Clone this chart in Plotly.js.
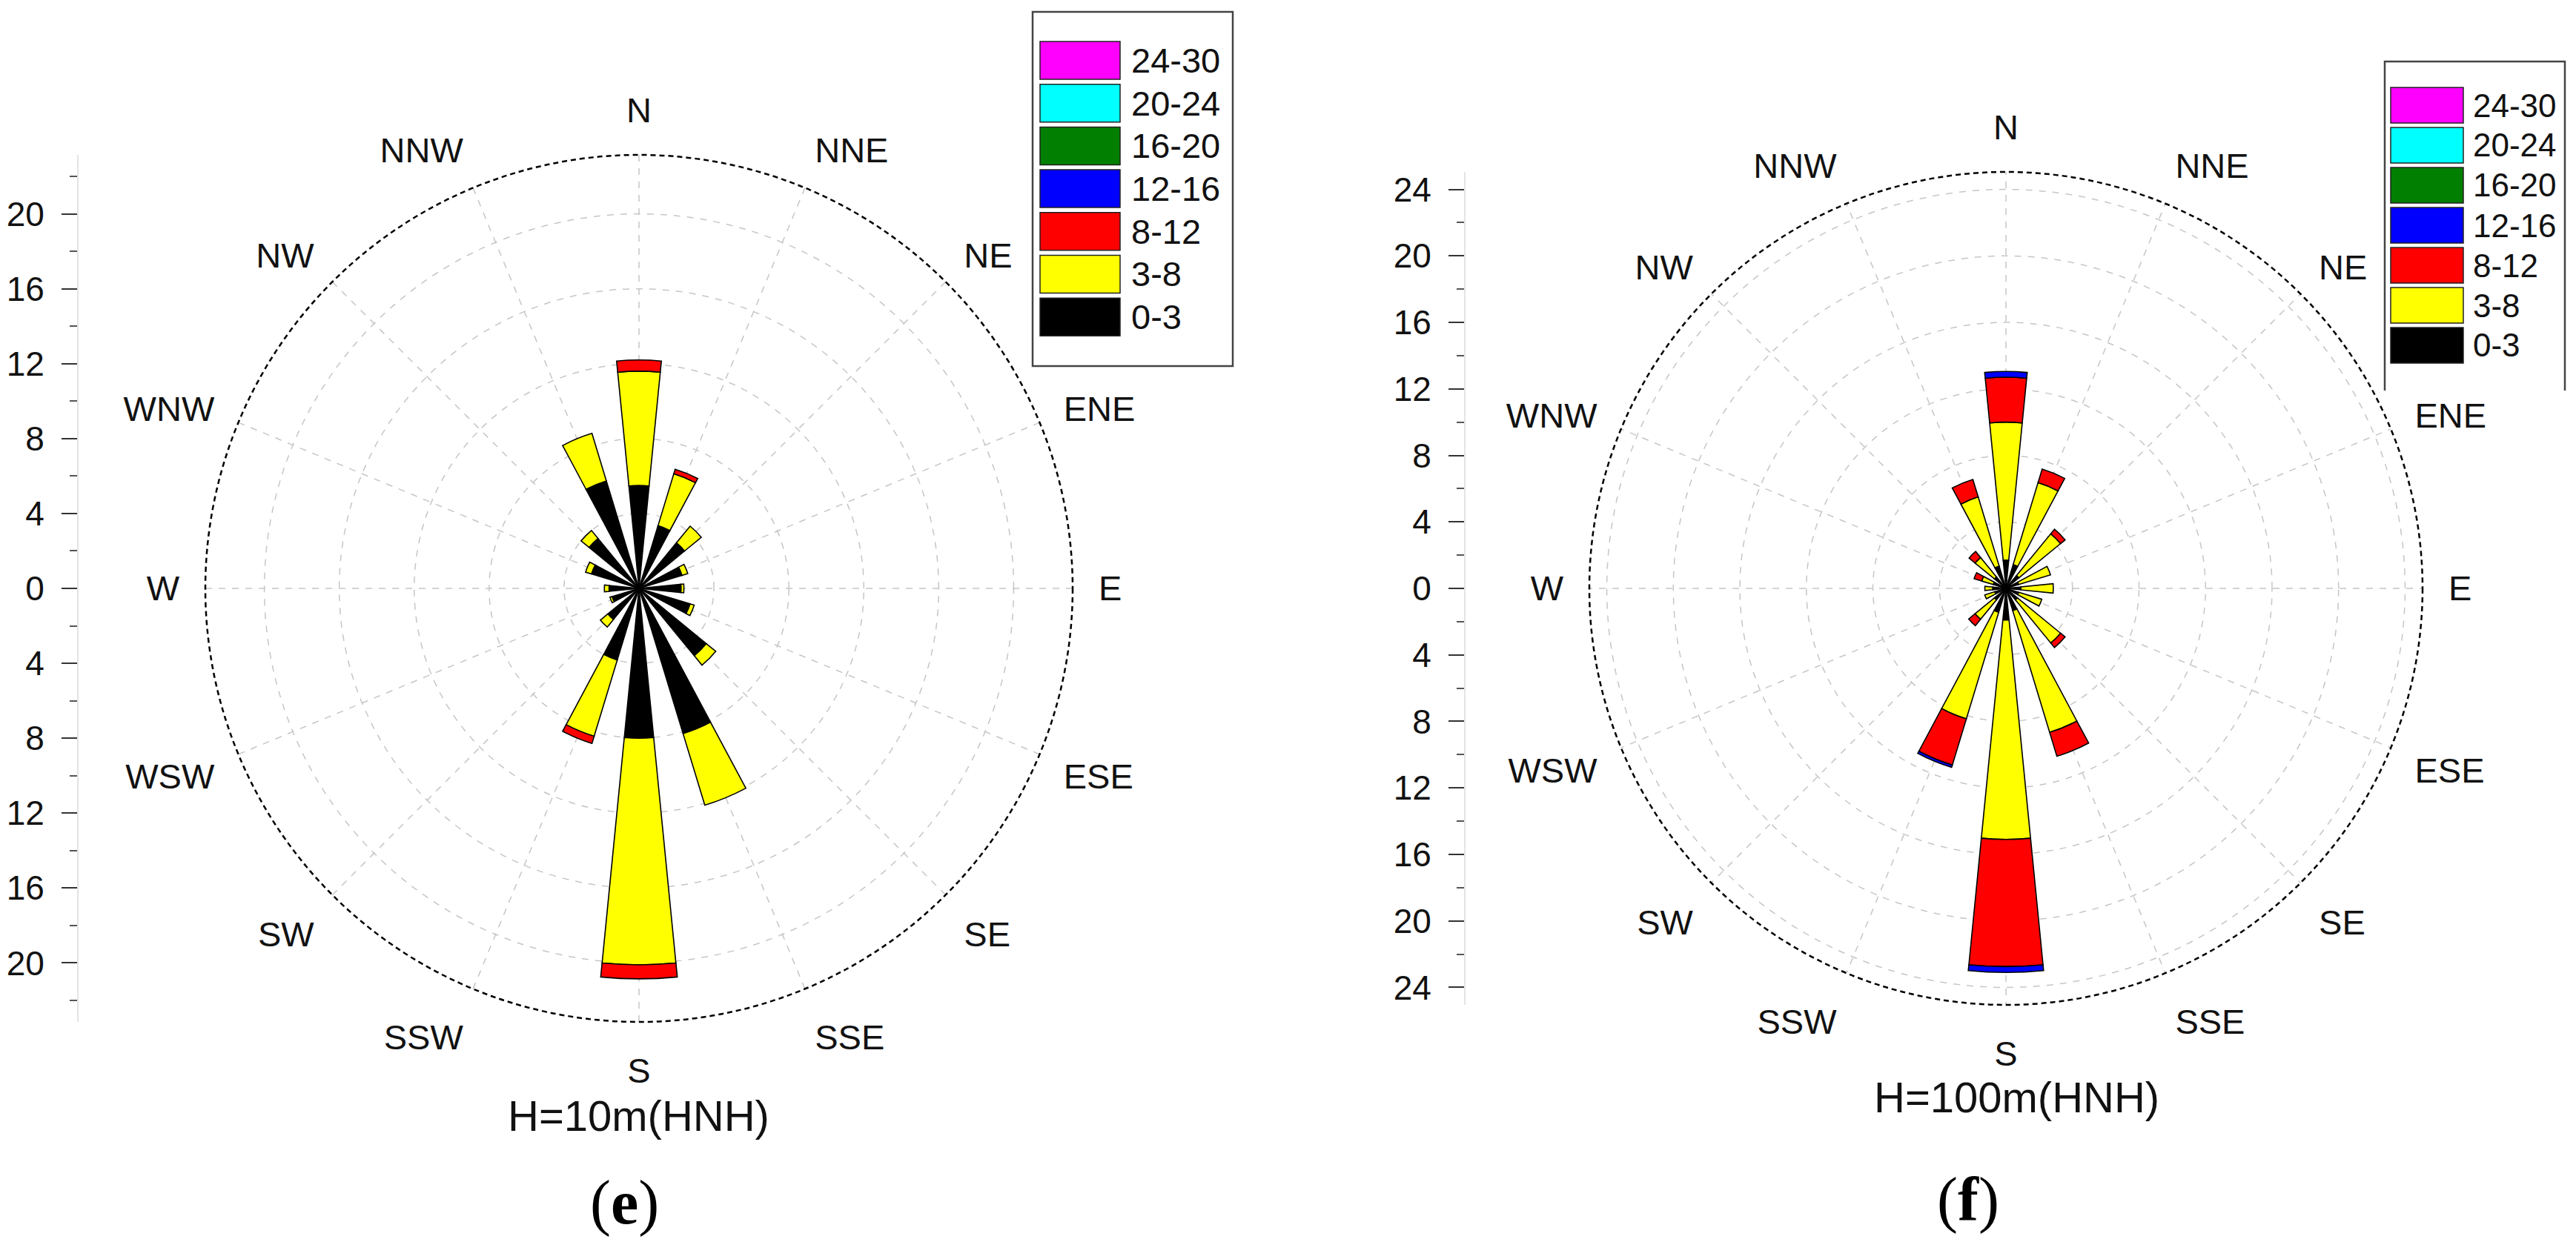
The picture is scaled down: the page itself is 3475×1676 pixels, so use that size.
<!DOCTYPE html>
<html>
<head>
<meta charset="utf-8">
<script src="https://cdn.plot.ly/plotly-3.0.1.min.js"></script>
<style>
  html, body { margin: 0; padding: 0; background: #ffffff; }
  #chart { width: 3475px; height: 1676px; }
</style>
</head>
<body>
<div id="chart"></div>
<script>
const W = 3475, H = 1676;

// wind directions (category positions in degrees) and their labels
const dirNames = ['N', 'NNE', 'NE', 'ENE', 'E', 'ESE', 'SE', 'SSE', 'S', 'SSW', 'SW', 'WSW', 'W', 'WNW', 'NW', 'NNW'];
const dirAngles = [0, 22.5, 45, 67.5, 90, 112.5, 135, 157.5, 180, 202.5, 225, 247.5, 270, 292.5, 315, 337.5];

// speed bins (m/s)
const binLabels = ['0-3', '3-8', '8-12', '12-16', '16-20', '20-24', '24-30'];
const binColors = ['#000000', '#ffff00', '#ff0000', '#0000ff', '#007f00', '#00ffff', '#ff00ff'];

// (e) H=10m -- frequency (%) per bin, stacked outward
const e_0_3   = [5.5, 3.5, 3.15, 2.4, 2.25, 2.85, 4.65, 8.1, 8.0, 4.0, 2.15, 1.5, 1.6, 2.65, 3.45, 6.0];
const e_3_8   = [6.1, 2.9, 1.15, 0.32, 0.15, 0.23, 0.65, 4.0, 12.1, 4.25, 0.52, 0.12, 0.25, 0.33, 0.55, 2.65];
const e_8_12  = [0.6, 0.25, 0, 0, 0, 0, 0, 0, 0.75, 0.4, 0, 0, 0, 0, 0, 0];
const e_12_16 = [0, 0, 0, 0, 0, 0, 0, 0, 0, 0, 0, 0, 0, 0, 0, 0];
const e_16_20 = [0, 0, 0, 0, 0, 0, 0, 0, 0, 0, 0, 0, 0, 0, 0, 0];
const e_20_24 = [0, 0, 0, 0, 0, 0, 0, 0, 0, 0, 0, 0, 0, 0, 0, 0];
const e_24_30 = [0, 0, 0, 0, 0, 0, 0, 0, 0, 0, 0, 0, 0, 0, 0, 0];

// (f) H=100m
const f_0_3   = [1.7, 1.5, 1.0, 0.8, 0.9, 0.8, 0.9, 1.4, 1.9, 1.5, 0.9, 0.7, 0.8, 0.8, 0.9, 1.4];
const f_3_8   = [8.3, 5.15, 3.25, 2.0, 1.95, 1.45, 3.35, 7.65, 13.2, 6.7, 1.5, 0.63, 0.47, 0.72, 1.5, 4.35];
const f_8_12  = [2.7, 0.85, 0.35, 0, 0, 0, 0.35, 1.5, 7.65, 2.9, 0.5, 0, 0, 0.48, 0.47, 1.1];
const f_12_16 = [0.35, 0, 0, 0, 0, 0, 0, 0, 0.35, 0.15, 0, 0, 0, 0, 0, 0];
const f_16_20 = [0, 0, 0, 0, 0, 0, 0, 0, 0, 0, 0, 0, 0, 0, 0, 0];
const f_20_24 = [0, 0, 0, 0, 0, 0, 0, 0, 0, 0, 0, 0, 0, 0, 0, 0];
const f_24_30 = [0, 0, 0, 0, 0, 0, 0, 0, 0, 0, 0, 0, 0, 0, 0, 0];

// left scale ticks
const eTickVals = [-20, -16, -12, -8, -4, 0, 4, 8, 12, 16, 20];
const eTickText = ['20', '16', '12', '8', '4', '0', '4', '8', '12', '16', '20'];
const fTickVals = [-24, -20, -16, -12, -8, -4, 0, 4, 8, 12, 16, 20, 24];
const fTickText = ['24', '20', '16', '12', '8', '4', '0', '4', '8', '12', '16', '20', '24'];
const eRings = [4, 8, 12, 16, 20];
const fRings = [4, 8, 12, 16, 20, 24];

const FONT = 'Arial, "Liberation Sans", sans-serif';
const px = x => x / W;
const py = y => 1 - y / H;

// geometry of the two roses (pixels)
const E_GEO = { cx: 862, cy: 794, r: 585, rmax: 23.15, axisX: 105 };
const F_GEO = { cx: 2706, cy: 794, r: 562, rmax: 25.05, axisX: 1976 };

function domainOf(g) {
  return {
    x: [px(g.cx - g.r), px(g.cx + g.r)],
    y: [py(g.cy + g.r), py(g.cy - g.r)],
  };
}

function roseTraces(series, subplot) {
  return series.map((vals, i) => ({
    type: 'barpolar',
    subplot: subplot,
    r: vals,
    theta: dirAngles,
    width: 11.25,
    name: binLabels[i],
    marker: { color: binColors[i], line: { color: '#000000', width: 1.6 } },
    showlegend: false,
    hoverinfo: 'skip',
  }));
}

function polarLayout(g, rings) {
  return {
    domain: domainOf(g),
    bgcolor: 'rgba(0,0,0,0)',
    barmode: 'stack',
    radialaxis: {
      range: [0, g.rmax], tickmode: 'array', tickvals: rings,
      showticklabels: false, ticks: '', showline: false,
      gridcolor: '#c6c6c6', griddash: 'dash', gridwidth: 1.5,
    },
    angularaxis: {
      rotation: 90, direction: 'clockwise', thetaunit: 'degrees',
      tickmode: 'array', tickvals: dirAngles, ticktext: dirNames,
      // invisible outside ticks only push the direction labels away from the rim
      ticks: 'outside', ticklen: 25, tickwidth: 1, tickcolor: 'rgba(0,0,0,0)',
      showline: false, gridcolor: '#c6c6c6', griddash: 'dash', gridwidth: 1.5,
      tickfont: { family: FONT, size: 47, color: '#111111' },
    },
  };
}

function scaleAxis(g, vals, text) {
  const d = domainOf(g);
  return {
    domain: d.y, anchor: 'free', position: px(g.axisX),
    range: [-g.rmax, g.rmax], tickmode: 'array', tickvals: vals, ticktext: text,
    ticks: 'outside', ticklen: 21, tickwidth: 2, tickcolor: '#333333',
    ticklabelstandoff: 14,
    minor: { dtick: 2, tick0: 0, ticks: 'outside', ticklen: 10, tickwidth: 2, tickcolor: '#555555' },
    showline: true, linecolor: '#e4e4e4', linewidth: 2,
    showgrid: false, zeroline: false, fixedrange: true,
    tickfont: { family: FONT, size: 46, color: '#111111' },
  };
}

// legend drawn as shapes + annotations (large Origin-style swatches)
function legendParts(box, sw, openBottom) {
  const shapes = [];
  const annos = [];
  if (openBottom) {
    shapes.push({
      type: 'path', xref: 'paper', yref: 'paper',
      path: `M${px(box.x0)},${py(box.y1)} L${px(box.x0)},${py(box.y0)} L${px(box.x1)},${py(box.y0)} L${px(box.x1)},${py(box.y1)}`,
      line: { color: '#444444', width: 2.5 },
    });
  } else {
    shapes.push({
      type: 'rect', xref: 'paper', yref: 'paper',
      x0: px(box.x0), x1: px(box.x1), y0: py(box.y1), y1: py(box.y0),
      line: { color: '#444444', width: 2.5 }, fillcolor: 'rgba(255,255,255,0)',
    });
  }
  const order = binLabels.map((_, i) => binLabels.length - 1 - i);
  order.forEach((bi, k) => {
    const top = sw.y0 + k * sw.step;
    shapes.push({
      type: 'rect', xref: 'paper', yref: 'paper',
      x0: px(sw.x0), x1: px(sw.x1), y0: py(top + sw.h), y1: py(top),
      fillcolor: binColors[bi], line: { color: '#222222', width: 1.5 },
    });
    annos.push({
      xref: 'paper', yref: 'paper', x: px(sw.tx), y: py(top + sw.h / 2),
      xanchor: 'left', yanchor: 'middle', showarrow: false,
      text: binLabels[bi], font: { family: FONT, size: sw.fs, color: '#111111' },
    });
  });
  return { shapes, annos };
}

const eLegend = legendParts({ x0: 1393, x1: 1663, y0: 16, y1: 494 },
  { x0: 1403, x1: 1511, y0: 56, h: 51, step: 57.7, tx: 1524, fs: 47 }, false);
const fLegend = legendParts({ x0: 3217, x1: 3460, y0: 83, y1: 527 },
  { x0: 3225, x1: 3323, y0: 118, h: 48, step: 54, tx: 3334, fs: 44 }, true);

function outerCircle(g) {
  const d = domainOf(g);
  return {
    type: 'circle', xref: 'paper', yref: 'paper',
    x0: d.x[0], x1: d.x[1], y0: d.y[0], y1: d.y[1],
    line: { color: '#000000', width: 2.5, dash: '7px,5px' },
  };
}

const traces = [
  ...roseTraces([e_0_3, e_3_8, e_8_12, e_12_16, e_16_20, e_20_24, e_24_30], 'polar'),
  ...roseTraces([f_0_3, f_3_8, f_8_12, f_12_16, f_16_20, f_20_24, f_24_30], 'polar2'),
  { type: 'scatter', x: [], y: [], xaxis: 'x', yaxis: 'y', hoverinfo: 'skip', showlegend: false },
  { type: 'scatter', x: [], y: [], xaxis: 'x2', yaxis: 'y2', hoverinfo: 'skip', showlegend: false },
];

const layout = {
  width: W, height: H,
  margin: { l: 0, r: 0, t: 0, b: 0 },
  paper_bgcolor: '#ffffff',
  plot_bgcolor: 'rgba(0,0,0,0)',
  showlegend: false,
  font: { family: FONT, color: '#111111' },
  polar: polarLayout(E_GEO, eRings),
  polar2: polarLayout(F_GEO, fRings),
  xaxis: { domain: [0.2, 0.21], visible: false, fixedrange: true },
  xaxis2: { domain: [0.7, 0.71], visible: false, fixedrange: true },
  yaxis: scaleAxis(E_GEO, eTickVals, eTickText),
  yaxis2: scaleAxis(F_GEO, fTickVals, fTickText),
  shapes: [outerCircle(E_GEO), outerCircle(F_GEO), ...eLegend.shapes, ...fLegend.shapes],
  annotations: [
    ...eLegend.annos, ...fLegend.annos,
    { xref: 'paper', yref: 'paper', x: px(861), y: py(1505), showarrow: false, xanchor: 'center', yanchor: 'middle',
      text: 'H=10m(HNH)', font: { family: FONT, size: 58, color: '#111111' } },
    { xref: 'paper', yref: 'paper', x: px(2720), y: py(1480), showarrow: false, xanchor: 'center', yanchor: 'middle',
      text: 'H=100m(HNH)', font: { family: FONT, size: 58, color: '#111111' } },
    { xref: 'paper', yref: 'paper', x: px(842), y: py(1623), showarrow: false, xanchor: 'center', yanchor: 'middle',
      text: '(<b>e</b>)', font: { family: '"Liberation Serif", "Times New Roman", serif', size: 84, color: '#000000' } },
    { xref: 'paper', yref: 'paper', x: px(2655), y: py(1619), showarrow: false, xanchor: 'center', yanchor: 'middle',
      text: '(<b>f</b>)', font: { family: '"Liberation Serif", "Times New Roman", serif', size: 84, color: '#000000' } },
  ],
};

Plotly.newPlot('chart', traces, layout, { displayModeBar: false, staticPlot: true });
</script>
</body>
</html>
